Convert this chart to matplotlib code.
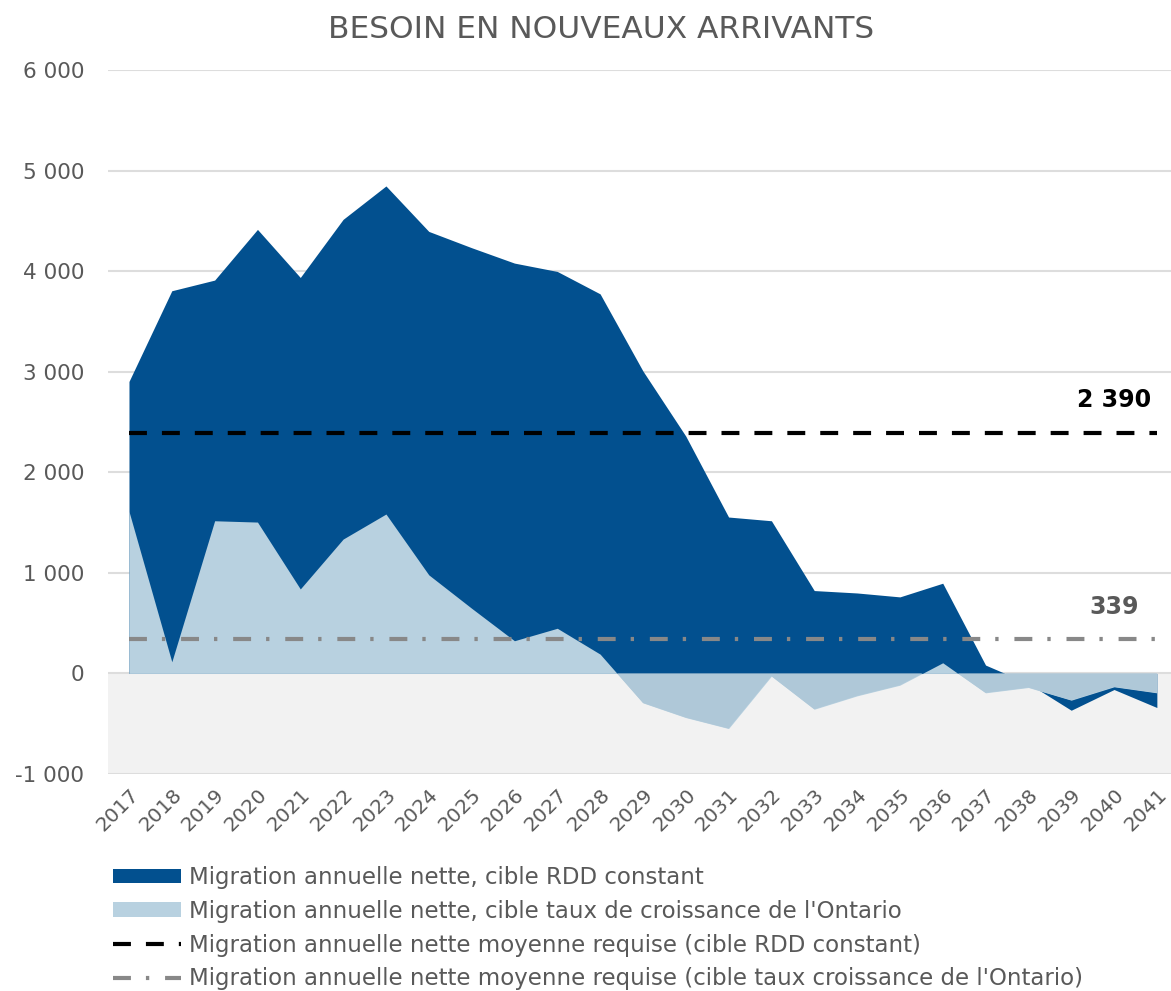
import matplotlib
matplotlib.use('Agg')
import matplotlib.pyplot as plt
import numpy as np
from matplotlib.patches import Patch
from matplotlib.lines import Line2D

# ---- data ----
years = list(range(2017, 2042))
year_labels = [str(y) for y in years]
rdd_constant = [2903, 3805, 3911, 4415, 3937, 4515, 4847, 4395, 4233, 4080,
                3997, 3774, 3007, 2360, 1555, 1518, 824, 800, 761, 897,
                83, -100, -366, -160, -339]
ontario_rate = [1611, 116, 1518, 1505, 840, 1336, 1585, 980, 648, 325,
                449, 192, -293, -439, -548, -27, -356, -223, -117, 106,
                -193, -140, -266, -133, -193]
avg_rdd = 2390
avg_ontario = 339
avg_rdd_label = "2 390"
avg_ontario_label = "339"
yticks = [-1000, 0, 1000, 2000, 3000, 4000, 5000, 6000]
ytick_labels = ["-1 000", "0", "1 000", "2 000", "3 000", "4 000", "5 000", "6 000"]
title = "BESOIN EN NOUVEAUX ARRIVANTS"
legend_labels = [
    "Migration annuelle nette, cible RDD constant",
    "Migration annuelle nette, cible taux de croissance de l'Ontario",
    "Migration annuelle nette moyenne requise (cible RDD constant)",
    "Migration annuelle nette moyenne requise (cible taux croissance de l'Ontario)",
]

# ---- style ----
DARK = '#02508F'
LIGHT = '#B8D1E0'
LIGHT_NEG = '#AFC8D8'
GREY_BAND = '#F2F2F2'
GRID = '#DDDDDD'
TXT = '#595959'

plt.rcParams['font.family'] = ['DejaVu Sans']

fig = plt.figure(figsize=(11.71, 9.91), dpi=100)
ax = fig.add_axes([108/1171, 1 - 774/991, 1 - 108/1171, (774 - 70)/991])

x = np.array(years, dtype=float)
dark = np.array(rdd_constant, dtype=float)
light = np.array(ontario_rate, dtype=float)

ax.set_xlim(2016.51, 2041.33)
ax.set_ylim(-1000, 6000)

ax.axhspan(-1000, 0, color=GREY_BAND, zorder=0, lw=0)
for yv in yticks:
    ax.axhline(yv, color=GRID, lw=1.5, zorder=0.5)

ax.fill_between(x, dark, 0, color=DARK, lw=0, zorder=1)
ax.fill_between(x, light, 0, color=LIGHT, lw=0, zorder=2)
ax.fill_between(x, light, 0, where=light < 0, interpolate=True,
                color=LIGHT_NEG, lw=0, zorder=2.1)

ax.plot([x[0], x[-1]], [avg_rdd, avg_rdd], color='black', lw=3,
        dashes=(4.3, 3.6), zorder=3)
ax.plot([x[0], x[-1]], [avg_ontario, avg_ontario], color='#888888', lw=3,
        dashes=(4.3, 3.6, 0.8, 3.8), zorder=3)

ax.annotate(avg_rdd_label, xy=(2040, avg_rdd), xytext=(0, 24),
            textcoords='offset points', ha='center', va='center',
            fontsize=17, fontweight='bold', color='black', zorder=4)
ax.annotate(avg_ontario_label, xy=(2040, avg_ontario), xytext=(0, 23),
            textcoords='offset points', ha='center', va='center',
            fontsize=17, fontweight='bold', color=TXT, zorder=4)

ax.set_yticks(yticks)
ax.set_yticklabels(ytick_labels)
ax.set_xticks(years)
ax.set_xticklabels(year_labels, rotation=45, ha='right', rotation_mode='anchor')
ax.tick_params(axis='y', length=0, pad=17, labelsize=15.5, labelcolor=TXT)
ax.tick_params(axis='x', length=0, pad=8, labelsize=14.5, labelcolor=TXT)
for s in ax.spines.values():
    s.set_visible(False)

fig.text(0.513, 0.970, title, ha='center', va='center', fontsize=22.5,
         color=TXT)

handles = [
    Patch(facecolor=DARK, edgecolor='none'),
    Patch(facecolor=LIGHT, edgecolor='none'),
    Line2D([], [], color='black', lw=3, dashes=(4.3, 3.6)),
    Line2D([], [], color='#888888', lw=3, dashes=(4.3, 3.6, 0.8, 3.8)),
]
leg = fig.legend(handles, legend_labels, loc='upper left',
                 bbox_to_anchor=(113/1171, 1 - 866/991), frameon=False,
                 fontsize=16.5, handlelength=2.95, handletextpad=0.35,
                 handleheight=0.62,
                 labelspacing=0.47, borderpad=0, borderaxespad=0)
for t in leg.get_texts():
    t.set_color(TXT)

fig.savefig('out.png', dpi=100)
